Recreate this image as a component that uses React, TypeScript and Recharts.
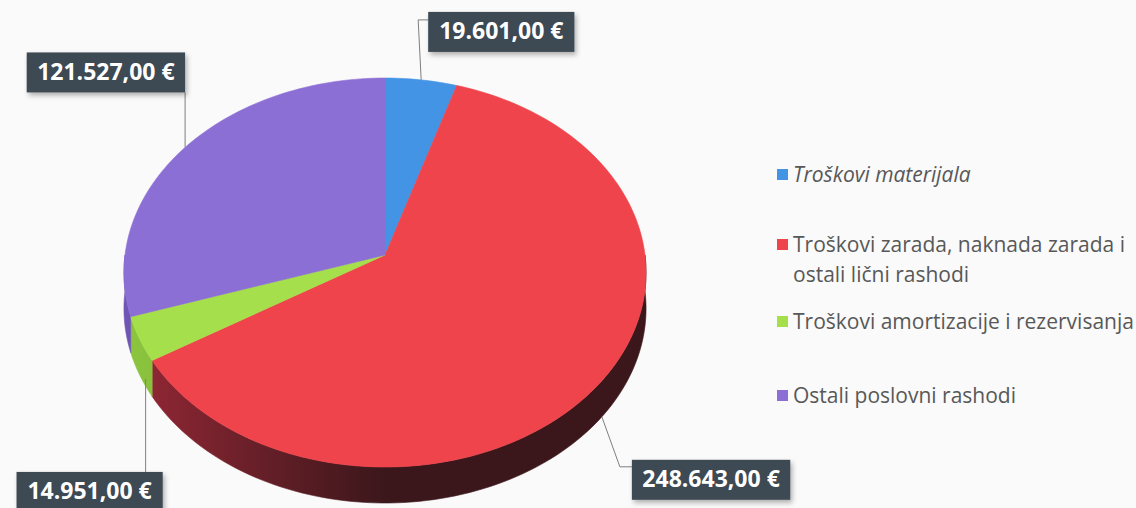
import React from 'react';
import { PieChart, Pie, Legend } from 'recharts';

const categories = [
  'Troškovi materijala',
  'Troškovi zarada, naknada zarada i ostali lični rashodi',
  'Troškovi amortizacije i rezervisanja',
  'Ostali poslovni rashodi',
];
const values = [19601, 248643, 14951, 121527];

const COLORS = ['#4494e6', '#ef444b', '#a6df4c', '#8c6fd4'];
// side wall gradients (left -> right)
const WALL_COLORS = [
  ['#2f6fb3', '#24558a'],
  ['#962836', '#3b171b'],
  ['#8cc53e', '#6f9d30'],
  ['#6f56b4', '#5a4596'],
];

const data = categories.map((name, i) => ({ name, value: values[i] }));

const formatEuro = (v: number) => {
  const s = Math.round(v).toString().replace(/\B(?=(\d{3})+(?!\d))/g, '.');
  return `${s},00 €`;
};

// fake perspective of the tilted disc
const D = 11.1;
const TILT = 0.742;
const DEPTH = 36;
const FONT = '"Open Sans", "Noto Sans", sans-serif';

const project = (cx: number, cy: number, r: number, deg: number, dy = 0) => {
  const a = (deg * Math.PI) / 180;
  const X = Math.cos(a);
  const Z = -Math.sin(a);
  const w = D / (D - Z);
  return [cx + r * X * w, cy + r * TILT * Z * w + dy];
};

const arc = (cx: number, cy: number, r: number, a0: number, a1: number, dy = 0) => {
  const n = Math.max(2, Math.ceil(Math.abs(a1 - a0) / 1.5));
  const pts: number[][] = [];
  for (let i = 0; i <= n; i++) pts.push(project(cx, cy, r, a0 + ((a1 - a0) * i) / n, dy));
  return pts;
};

const toPath = (pts: number[][]) =>
  pts.map((p, i) => `${i ? 'L' : 'M'}${p[0].toFixed(2)},${p[1].toFixed(2)}`).join(' ') + ' Z';

const WallShape = (props: any) => {
  const { cx, cy, outerRadius, startAngle, endAngle, index } = props;
  const lo = Math.min(startAngle, endAngle);
  const hi = Math.max(startAngle, endAngle);
  const parts: number[][][] = [];
  for (let k = -2; k <= 1; k++) {
    const a = Math.max(lo, 180 + 360 * k);
    const b = Math.min(hi, 360 + 360 * k);
    if (b > a) {
      const top = arc(cx, cy, outerRadius, a, b);
      const bottom = arc(cx, cy, outerRadius, b, a, DEPTH);
      parts.push([...top, ...bottom]);
    }
  }
  const id = `wall-${index}`;
  return (
    <g>
      <defs>
        <linearGradient id={id} gradientUnits="userSpaceOnUse" x1={cx - outerRadius} y1={0} x2={cx + outerRadius} y2={0}>
          <stop offset="0%" stopColor={WALL_COLORS[index][0]} />
          <stop offset="50%" stopColor={WALL_COLORS[index][1]} />
          <stop offset="100%" stopColor={WALL_COLORS[index][1]} />
        </linearGradient>
      </defs>
      {parts.map((p, i) => (
        <path key={i} d={toPath(p)} fill={`url(#${id})`} stroke={`url(#${id})`} strokeWidth={0.6} />
      ))}
    </g>
  );
};

const TopShape = (props: any) => {
  const { cx, cy, outerRadius, startAngle, endAngle, index } = props;
  const pts = [[cx, cy], ...arc(cx, cy, outerRadius, startAngle, endAngle)];
  return <path d={toPath(pts)} fill={COLORS[index]} stroke={COLORS[index]} strokeWidth={0.6} />;
};

const BOX_H = 40;

const renderLabel = (props: any) => {
  const { cx, cy, midAngle, outerRadius, index, value } = props;
  const front = Math.sin((midAngle * Math.PI) / 180) < 0;
  const [ax, ay] = project(cx, cy, outerRadius, midAngle, front ? DEPTH : 0);
  const text = formatEuro(value);
  const bw = text.length * 12.2 + 12;
  let bx = 0;
  let by = 0;
  let line: number[][] = [];
  if (index === 0) {
    bx = ax + 7;
    by = ay - 68;
    line = [[ax, ay], [ax - 3, ay - 60], [bx, ay - 60]];
  } else if (index === 1) {
    bx = ax + 30;
    by = ay + 43;
    line = [[ax, ay], [ax + 18, ay + 50], [bx, ay + 50]];
  } else if (index === 2) {
    bx = ax - 50 - bw / 2;
    by = ay + 97;
    line = [[ax + 6, ay + 4], [ax + 6, by]];
  } else {
    bx = ax - bw;
    by = ay - 55 - BOX_H;
    line = [[ax, ay], [ax, by + BOX_H]];
  }
  return (
    <g key={`lbl-${index}`}>
      <defs>
        <filter id={`sh-${index}`} x="-20%" y="-30%" width="140%" height="170%">
          <feDropShadow dx="2" dy="3" stdDeviation="2.5" floodColor="#000" floodOpacity="0.3" />
        </filter>
      </defs>
      <polyline
        points={line.map((p) => p.join(',')).join(' ')}
        fill="none"
        stroke="#7f7f7f"
        strokeWidth={1}
      />
      <rect x={bx} y={by} width={bw} height={BOX_H} fill="#3e4852" filter={`url(#sh-${index})`} />
      <text
        x={bx + bw / 2}
        y={by + BOX_H / 2 + 1}
        textAnchor="middle"
        dominantBaseline="middle"
        fill="#ffffff"
        fontFamily={FONT}
        fontWeight={700}
        fontSize={23}
      >
        {text}
      </text>
    </g>
  );
};

// top offsets of the legend rows, from top of legend box
const LEGEND_TOPS = [9, 79, 156, 230];

const renderLegend = () => (
  <div style={{ position: 'relative', width: 361, height: 280, fontFamily: FONT }}>
    {categories.map((c, i) => (
      <div key={c} style={{ position: 'absolute', left: 0, top: LEGEND_TOPS[i], width: 361 }}>
        <span
          style={{
            position: 'absolute',
            left: 2,
            top: 10,
            width: 11,
            height: 11,
            background: COLORS[i],
          }}
        />
        <div
          style={{
            marginLeft: 18,
            fontSize: 21,
            lineHeight: '30px',
            color: '#585858',
            fontStyle: i === 0 ? 'italic' : 'normal',
            width: 348,
            whiteSpace: i === 1 ? 'normal' : 'nowrap',
          }}
        >
          {c}
        </div>
      </div>
    ))}
  </div>
);

export default function App() {
  return (
    <div style={{ width: 1136, height: 508, background: '#fafafa', position: 'relative', overflow: 'hidden' }}>
      <style>{'body{margin:0;}'}</style>
      <PieChart width={1136} height={508} margin={{ top: 0, right: 0, bottom: 0, left: 0 }}>
        <Pie
          data={data}
          dataKey="value"
          nameKey="name"
          cx={385}
          cy={255}
          outerRadius={260}
          startAngle={90}
          endAngle={-270}
          stroke="none"
          shape={WallShape}
          legendType="none"
          isAnimationActive={false}
        />
        <Pie
          data={data}
          dataKey="value"
          nameKey="name"
          cx={385}
          cy={255}
          outerRadius={260}
          startAngle={90}
          endAngle={-270}
          stroke="none"
          shape={TopShape}
          label={renderLabel}
          labelLine={false}
          isAnimationActive={false}
        />
        <Legend
          content={renderLegend}
          wrapperStyle={{ left: 775, top: 150, width: 361 }}
        />
      </PieChart>
    </div>
  );
}
